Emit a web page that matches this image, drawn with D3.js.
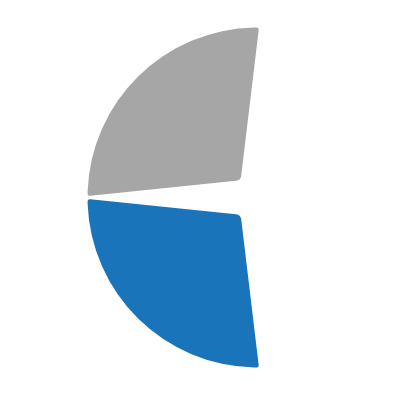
<!DOCTYPE html>
<html>
<head>
<meta charset="utf-8">
<script src="https://cdn.jsdelivr.net/npm/d3@7"></script>
<style>
  html, body { margin: 0; padding: 0; background: #fff; }
  svg { display: block; }
</style>
</head>
<body>
<svg width="407" height="407"></svg>
<script>
// two slices, drawn over the left half of the circle
var categories = ["B", "A"];
var values = [50, 50];
var colors = ["#1a74ba", "#a6a6a6"];

var svg = d3.select("svg"),
    width = +svg.attr("width"),
    height = +svg.attr("height");

var cx = 257.5, cy = 197.5,
    outerR = 170,
    tipR = 24,        // slices meet short of the centre
    cornerR = 2.5,
    tipCorner = 6,
    pad = Math.PI / 180;

var pie = d3.pie()
    .sort(null)
    .startAngle(Math.PI - pad)
    .endAngle(2 * Math.PI + pad)
    .padAngle(pad);

var arcs = pie(values);

// d3 angle (0 = up, clockwise) -> point
function pt(r, a) {
  return [cx + r * Math.sin(a), cy - r * Math.cos(a)];
}

function slicePath(d) {
  var a0 = d.startAngle + d.padAngle / 2,
      a1 = d.endAngle - d.padAngle / 2,
      am = (a0 + a1) / 2,
      k = 2 * cornerR / outerR;
  var p0 = pt(outerR, a0), p1 = pt(outerR, a1),
      s = pt(outerR, a0 + k),
      t = pt(tipR, am);
  var p = d3.path();
  p.moveTo(s[0], s[1]);
  p.arc(cx, cy, outerR, a0 + k - Math.PI / 2, a1 - k - Math.PI / 2);
  p.arcTo(p1[0], p1[1], t[0], t[1], cornerR);
  p.arcTo(t[0], t[1], p0[0], p0[1], tipCorner);
  p.arcTo(p0[0], p0[1], s[0], s[1], cornerR);
  p.closePath();
  return p.toString();
}

svg.append("g")
  .selectAll("path")
  .data(arcs)
  .enter().append("path")
    .attr("d", slicePath)
    .attr("fill", function(d, i) { return colors[i]; })
  .append("title")
    .text(function(d, i) { return categories[i] + ": " + d.value; });
</script>
</body>
</html>
